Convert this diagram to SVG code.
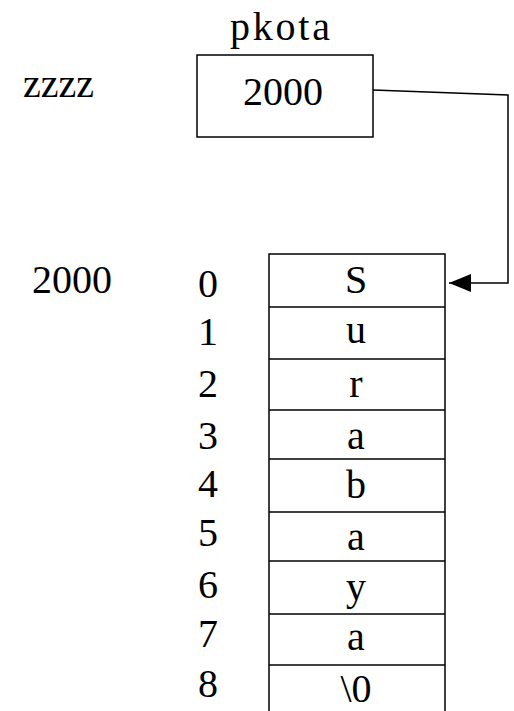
<svg xmlns="http://www.w3.org/2000/svg" width="514" height="711" viewBox="0 0 514 711">
<style>
text{font-family:"Liberation Serif","Times New Roman",serif;fill:#000;font-size:40px;}
.c{text-anchor:middle;}
.box{fill:#fff;stroke:#000;stroke-width:1.5;}
.ln{fill:none;stroke:#000;stroke-width:1.5;}
</style>
<defs>
<marker id="ah" markerWidth="22" markerHeight="18" refX="22" refY="9" orient="auto" markerUnits="userSpaceOnUse" viewBox="0 0 22 18">
<path d="M0,0 L22,9 L0,18 Z" fill="#000"/>
</marker>
</defs>
<g id="label-zzzz"><text x="23" y="97" font-size="41">zzzz</text></g>
<g id="label-addr"><text x="32" y="293">2000</text></g>
<g id="pkota">
<text x="230" y="40" font-size="43" textLength="100" lengthAdjust="spacing">pkota</text>
<rect class="box" x="197" y="55" width="176" height="82"/>
<text class="c" x="283" y="105">2000</text>
</g>
<g id="array">
<rect class="box" x="269" y="254" width="176" height="470"/>
<line class="ln" x1="269" y1="307" x2="445" y2="307"/>
<line class="ln" x1="269" y1="359" x2="445" y2="359"/>
<line class="ln" x1="269" y1="410" x2="445" y2="410"/>
<line class="ln" x1="269" y1="459" x2="445" y2="459"/>
<line class="ln" x1="269" y1="512" x2="445" y2="512"/>
<line class="ln" x1="269" y1="561" x2="445" y2="561"/>
<line class="ln" x1="269" y1="614" x2="445" y2="614"/>
<line class="ln" x1="269" y1="665" x2="445" y2="665"/>
<text class="c" x="356" y="293">S</text>
<text class="c" x="356" y="343">u</text>
<text class="c" x="356" y="397">r</text>
<text class="c" x="356" y="449">a</text>
<text class="c" x="356" y="498">b</text>
<text class="c" x="356" y="550">a</text>
<text class="c" x="356" y="600">y</text>
<text class="c" x="356" y="650">a</text>
<text class="c" x="356" y="702">\0</text>
</g>
<g id="indices">
<text class="c" x="208" y="297">0</text>
<text class="c" x="208" y="345">1</text>
<text class="c" x="208" y="397">2</text>
<text class="c" x="208" y="449">3</text>
<text class="c" x="208" y="497">4</text>
<text class="c" x="208" y="546">5</text>
<text class="c" x="208" y="598">6</text>
<text class="c" x="208" y="647">7</text>
<text class="c" x="208" y="697">8</text>
</g>
<g id="connectors">
<path class="ln" d="M373,90 L508,95 L508,283 L449,283" marker-end="url(#ah)"/>
</g>
</svg>
